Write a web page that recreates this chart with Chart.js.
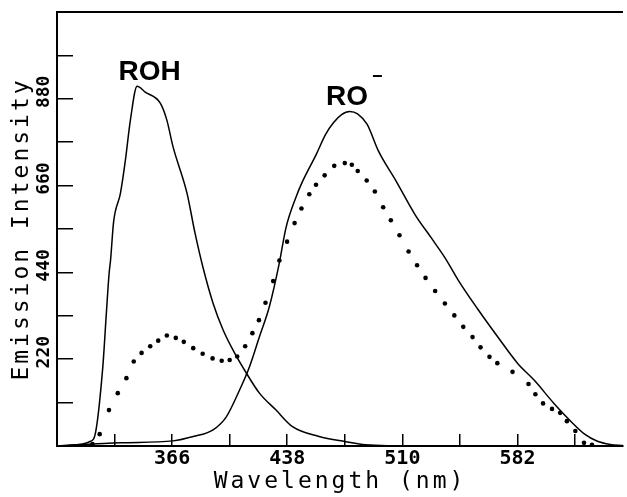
<!DOCTYPE html>
<html>
<head>
<meta charset="utf-8">
<script src="https://cdn.jsdelivr.net/npm/chart.js"></script>
<style>
  html, body { margin: 0; padding: 0; background: #fff; }
</style>
</head>
<body>
<canvas id="chart" width="627" height="497"></canvas>
<script>
// ROH emission, solid line
var rohWavelength = [295, 305, 310, 315, 317.6, 322.6, 325, 326.6, 327.5, 329.4, 333.7, 336.8, 339.9, 344.1, 349.2, 358.6, 362.7, 366.6, 375.3, 380.3, 385.4, 391.6, 397.9, 404.1, 412.4, 420.6, 431, 441.3, 457.9, 474.4, 487, 520, 648];
var rohIntensity  = [0, 3, 5, 12, 25, 198, 345, 438, 471, 568, 641, 725, 826, 912, 897, 869, 826, 758, 641, 540, 451, 362, 294, 243, 185, 134, 91, 49, 24, 11, 3, 0, 0];

// RO- emission, solid line
var roWavelength = [295, 334, 366.6, 379.2, 391.6, 399.9, 408.2, 414.4, 420.6, 426.8, 433, 437.2, 443.4, 447.5, 456, 462, 467, 472, 477, 482, 488, 495, 506, 518, 528, 537, 545, 557, 569.6, 582, 592.4, 604.8, 615, 624, 632, 640, 648];
var roIntensity  = [0, 8, 13, 24, 41, 74, 142, 201, 277, 353, 463, 553, 630, 670, 738, 790, 820, 840, 848, 842, 815, 748, 672, 586, 528, 475, 420, 348, 277, 210, 167, 108, 64, 30, 12, 4, 1];

// second spectrum, dotted
var dotWavelength = [316.2, 320.7, 326.5, 332, 337.4, 342, 346.9, 352.3, 357.3, 362.7, 368.3, 373.3, 379.2, 385.1, 391.3, 397, 402, 406.7, 411.7, 416.2, 420.3, 424.4, 429.2, 433.1, 437.9, 442.6, 446.9, 451.8, 456, 461.4, 467.4, 474, 478.4, 482.1, 487.7, 492.8, 498, 502.8, 508.2, 513.9, 519.2, 524.5, 530.5, 536.6, 542.5, 548.1, 553.9, 558.9, 564.5, 569.4, 578.9, 588.9, 593.2, 598, 603.6, 608.7, 612.9, 618.2, 623.6, 628.6];
var dotIntensity  = [5, 30, 91, 134, 172, 214, 236, 253, 267, 280, 274, 264, 248, 234, 222, 216, 218, 227, 253, 286, 319, 363, 418, 470, 518, 565, 602, 638, 662, 686, 710, 717, 713, 697, 673, 645, 605, 572, 534, 493, 458, 426, 393, 361, 331, 302, 276, 250, 226, 210, 188, 157, 131, 108, 94, 84, 63, 38, 8, 3];

// axes
var xTicks = [330, 366, 402, 438, 474, 510, 546, 582, 618];
var xLabels = [366, 438, 510, 582];
var yLabels = [220, 440, 660, 880];

function pts(xs, ys) {
  return xs.map(function (x, i) { return { x: x, y: ys[i] }; });
}

Chart.defaults.font.family = '"DejaVu Sans Mono", monospace';
Chart.defaults.color = '#000';

// titles are drawn with wider letter spacing, tick labels without
var spacing = {
  id: 'spacing',
  beforeDraw: function (chart) { chart.ctx.letterSpacing = '3px'; },
  beforeDatasetsDraw: function (chart) { chart.ctx.letterSpacing = '0px'; }
};

var frameAndLabels = {
  id: 'frameAndLabels',
  afterDraw: function (chart) {
    var ctx = chart.ctx, a = chart.chartArea;
    var xs = chart.scales.x, ys = chart.scales.y;
    ctx.save();
    ctx.strokeStyle = '#000';
    ctx.lineWidth = 2;
    ctx.beginPath();
    ctx.moveTo(a.left, a.top);
    ctx.lineTo(a.right, a.top);
    ctx.stroke();

    ctx.fillStyle = '#000';
    ctx.font = 'bold 28px "Liberation Sans"';
    ctx.textBaseline = 'middle';
    ctx.textAlign = 'center';
    ctx.fillText('ROH', xs.getPixelForValue(352), ys.getPixelForValue(946));

    ctx.textAlign = 'left';
    var rx = xs.getPixelForValue(462.2), ry = ys.getPixelForValue(885);
    ctx.fillText('RO', rx, ry);
    var w = ctx.measureText('RO').width;
    ctx.font = 'bold 18px "Liberation Sans"';
    ctx.fillText('\u2212', rx + w + 4, ry - 20);
    ctx.restore();
  }
};

new Chart(document.getElementById('chart'), {
  type: 'scatter',
  data: {
    datasets: [
      { data: pts(rohWavelength, rohIntensity), showLine: true, borderColor: '#000', borderWidth: 1.5, pointRadius: 0, cubicInterpolationMode: 'monotone' },
      { data: pts(roWavelength, roIntensity), showLine: true, borderColor: '#000', borderWidth: 1.5, pointRadius: 0, cubicInterpolationMode: 'monotone' },
      { data: pts(dotWavelength, dotIntensity), showLine: false, pointRadius: 2.3, pointBorderWidth: 0, pointBackgroundColor: '#000' }
    ]
  },
  options: {
    responsive: false,
    animation: false,
    layout: { padding: { top: 12, right: 0, left: 0, bottom: 0 } },
    plugins: { legend: { display: false }, tooltip: { enabled: false } },
    scales: {
      x: {
        type: 'linear',
        min: 294,
        max: 648,
        afterBuildTicks: function (axis) {
          axis.ticks = xTicks.map(function (v) { return { value: v }; });
        },
        afterFit: function (s) { s.height = 51; s.paddingLeft = 0; s.paddingRight = 0; },
        grid: { drawOnChartArea: false, drawTicks: true, tickLength: -12, color: '#000', lineWidth: 1.5 },
        border: { display: true, color: '#000', width: 2 },
        ticks: {
          autoSkip: false,
          maxRotation: 0,
          padding: 13,
          z: 1,
          font: { size: 20, weight: 'bold' },
          callback: function (v) { return xLabels.indexOf(v) >= 0 ? String(v) : ''; }
        },
        title: { display: true, text: 'Wavelength (nm)', font: { size: 23, lineHeight: 1 }, padding: { top: 0, bottom: 3 } }
      },
      y: {
        min: 0,
        max: 1100,
        afterFit: function (s) { s.width = 57; s.paddingTop = 0; s.paddingBottom = 0; },
        grid: { drawOnChartArea: false, drawTicks: true, tickLength: -16, color: '#000', lineWidth: 1.5 },
        border: { display: true, color: '#000', width: 2 },
        ticks: {
          stepSize: 110,
          autoSkip: false,
          minRotation: 90,
          maxRotation: 90,
          crossAlign: 'center',
          labelOffset: -7,
          padding: 12,
          z: 1,
          font: { size: 18, weight: 'bold' },
          callback: function (v) { return yLabels.indexOf(v) >= 0 ? String(v) : ''; }
        },
        title: { display: true, text: 'Emission Intensity', font: { size: 23, lineHeight: 1 }, padding: { top: 11, bottom: 0 } }
      }
    }
  },
  plugins: [spacing, frameAndLabels]
});
</script>
</body>
</html>
